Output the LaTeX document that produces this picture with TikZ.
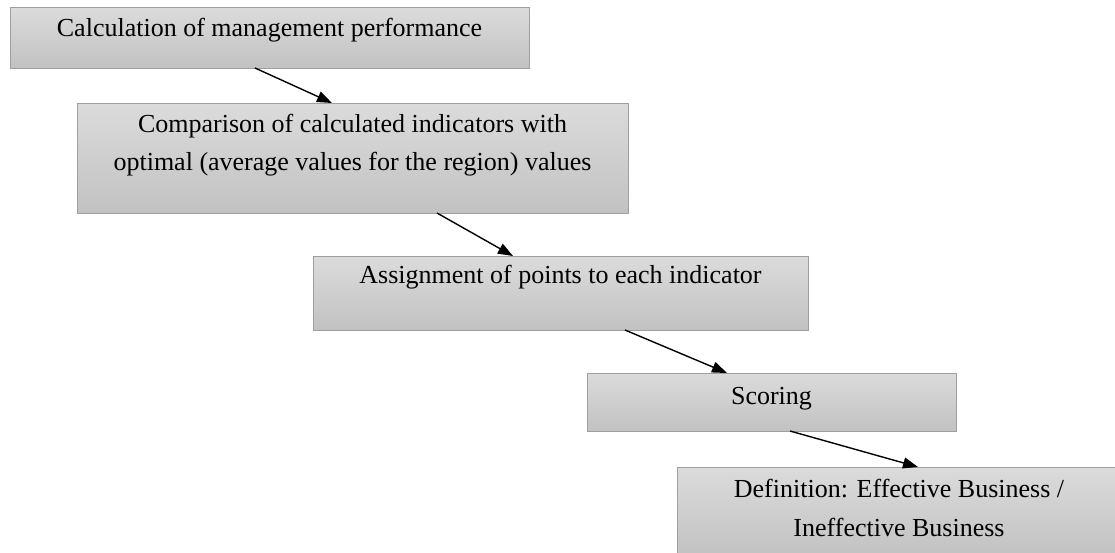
\documentclass[tikz,border=0pt]{standalone}
\usepackage{fontspec}
\setmainfont{Liberation Serif}
\usetikzlibrary{arrows.meta,calc}
\begin{document}
\begin{tikzpicture}[x=1pt,y=-1pt,
  box/.style={draw=gray!75, line width=1pt, inner sep=0pt, outer sep=0pt, anchor=north west,
    top color=gray!28, bottom color=gray!48},
  lbl/.style={anchor=base, inner sep=0pt, font=\fontsize{26}{39}\selectfont, text=black},
  flow/.style={line width=1.4pt, -{Triangle[length=15pt,width=11pt]}}]
\useasboundingbox (0,0) rectangle (1115,552);
\clip (0,0) rectangle (1115,552);
\fill[white] (0,0) rectangle (1115,552);
\node[box, minimum width=519pt, minimum height=61pt] (b1) at (10,7) {};
\node[box, minimum width=551pt, minimum height=110pt] (b2) at (77,103) {};
\node[box, minimum width=495pt, minimum height=74pt] (b3) at (313,256) {};
\node[box, minimum width=369pt, minimum height=58pt] (b4) at (587,373) {};
\node[box, minimum width=444pt, minimum height=90pt] (b5) at (677,467) {};
\node[lbl] (t1) at (269.5,36) {Calculation of management performance};
\node[lbl] (t2a) at (352.5,132) {Comparison of calculated indicators with};
\node[lbl] (t2b) at (352.5,170) {optimal (average values for the region) values};
\node[lbl] (t3) at (560.5,283) {Assignment of points to each indicator};
\node[lbl] (t4) at (771.5,404) {Scoring};
\node[lbl] (t5a) at (899,497) {Definition: Effective Business /};
\node[lbl] (t5b) at (899,536) {Ineffective Business};
\draw[flow] ($(b1.south west)+(245,0)$) -- ($(b2.north west)+(255,0)$);
\draw[flow] ($(b2.south west)+(360,0)$) -- ($(b3.north west)+(200,0)$);
\draw[flow] ($(b3.south west)+(312,0)$) -- ($(b4.north west)+(140,0)$);
\draw[flow] ($(b4.south west)+(203,0)$) -- ($(b5.north west)+(241,0)$);
\end{tikzpicture}
\end{document}
